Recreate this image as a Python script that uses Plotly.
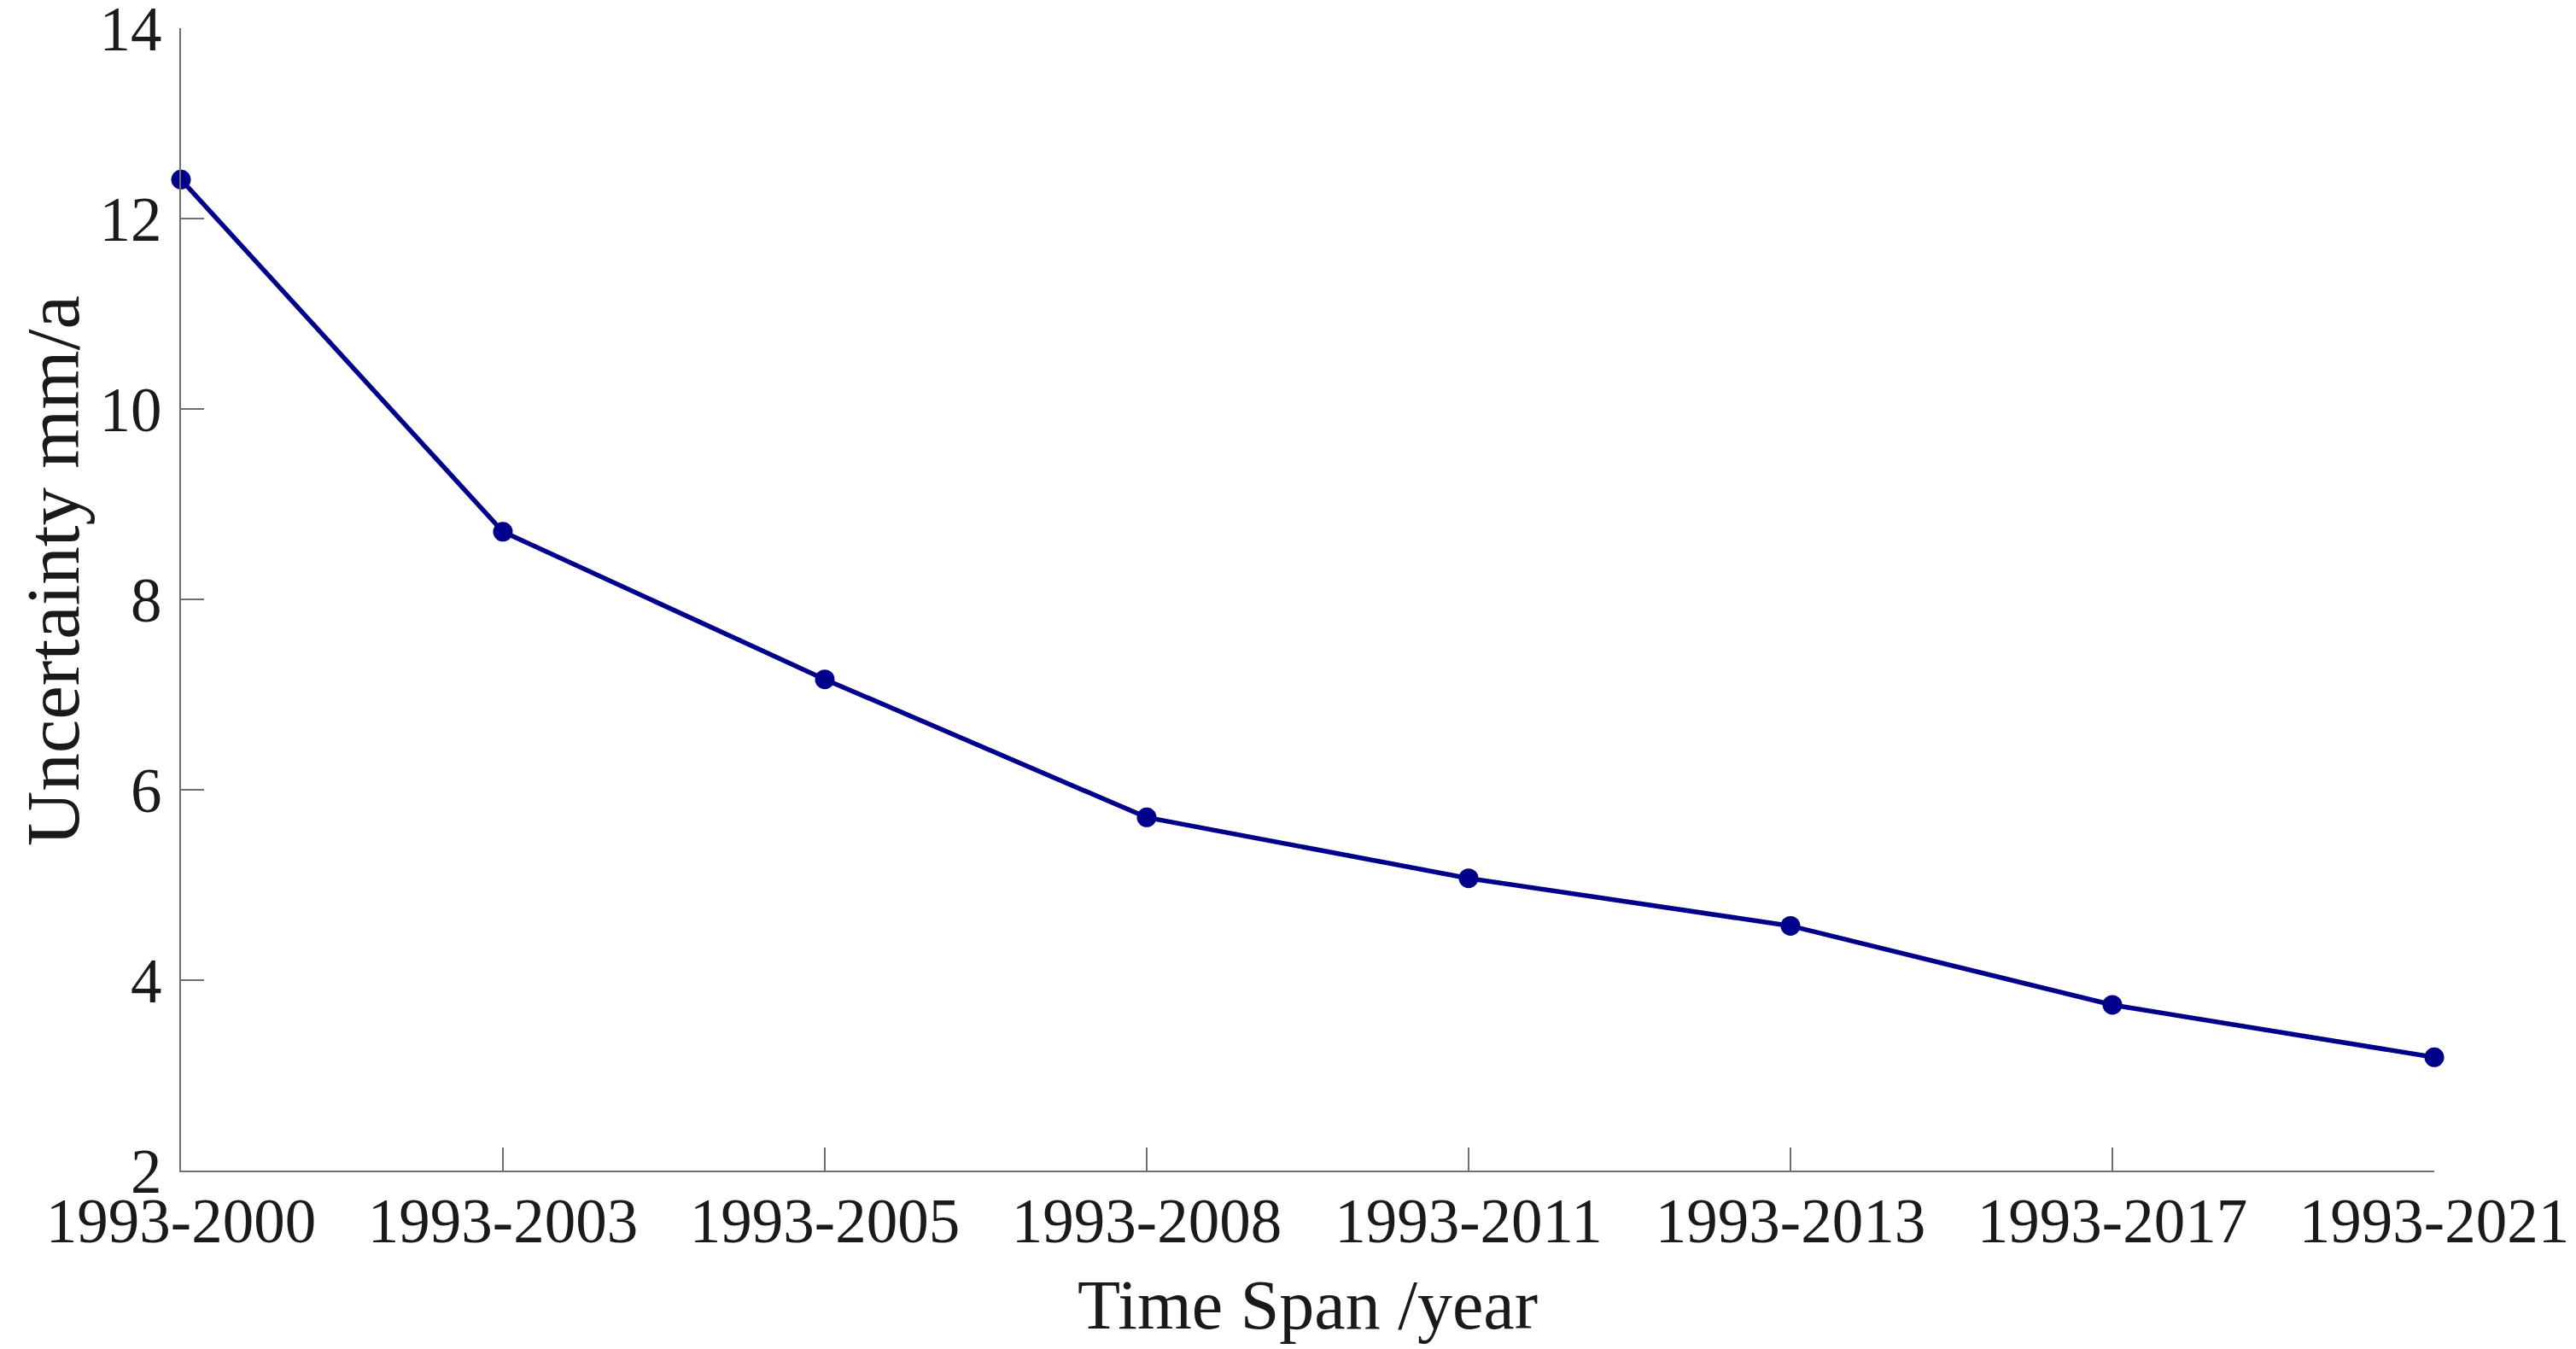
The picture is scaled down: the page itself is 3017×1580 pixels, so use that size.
import plotly.graph_objects as go

categories = ["1993-2000", "1993-2003", "1993-2005", "1993-2008",
              "1993-2011", "1993-2013", "1993-2017", "1993-2021"]
uncertainty = [12.41, 8.71, 7.16, 5.71, 5.07, 4.57, 3.74, 3.19]
y_ticks = [2, 4, 6, 8, 10, 12, 14]
x_title = "Time Span /year"
y_title = "Uncertainty mm/a"

FONT = "Liberation Serif, Times New Roman, serif"
AXIS_COLOR = "#707070"
TEXT_COLOR = "#1a1a1a"

# page body has a default 8px margin; compensate so the plot sits where the reference's does
PAGE_PAD = 8

fig = go.Figure()
fig.add_trace(go.Scatter(
    x=categories, y=uncertainty,
    mode="lines+markers",
    line=dict(color="#00008B", width=5.5),
    marker=dict(color="#00008B", size=23),
    cliponaxis=False,
    showlegend=False,
))

fig.update_layout(
    width=3017 - PAGE_PAD, height=1580 - PAGE_PAD,
    margin=dict(l=212 - PAGE_PAD, r=166, t=33 - PAGE_PAD, b=209),
    paper_bgcolor="white", plot_bgcolor="white",
    font=dict(family=FONT, size=72, color=TEXT_COLOR),
)
fig.update_xaxes(
    type="category", range=[0, 7],
    showgrid=False, zeroline=False,
    showline=True, linecolor=AXIS_COLOR, linewidth=2,
    ticks="inside", ticklen=27, tickwidth=2, tickcolor=AXIS_COLOR,
    tickfont=dict(family=FONT, size=73, color=TEXT_COLOR),
    ticklabelstandoff=-6, ticklabeloverflow="allow",
    automargin=False,
)
fig.update_yaxes(
    range=[2, 14], tickvals=y_ticks,
    showgrid=False, zeroline=False,
    showline=True, linecolor=AXIS_COLOR, linewidth=2,
    ticks="inside", ticklen=27, tickwidth=2, tickcolor=AXIS_COLOR,
    tickfont=dict(family=FONT, size=73, color=TEXT_COLOR),
    ticklabelstandoff=6, ticklabeloverflow="allow",
    automargin=False,
)

fig.add_annotation(
    text=x_title, xref="paper", yref="paper", x=0.5, y=0,
    xanchor="center", yanchor="middle", yshift=-157,
    showarrow=False, font=dict(family=FONT, size=82, color=TEXT_COLOR),
)
fig.add_annotation(
    text=y_title, xref="paper", yref="paper", x=0, y=0.5,
    xanchor="center", yanchor="middle", xshift=-150, yshift=33,
    textangle=-90,
    showarrow=False, font=dict(family=FONT, size=89, color=TEXT_COLOR),
)

fig.write_html("out.html")
